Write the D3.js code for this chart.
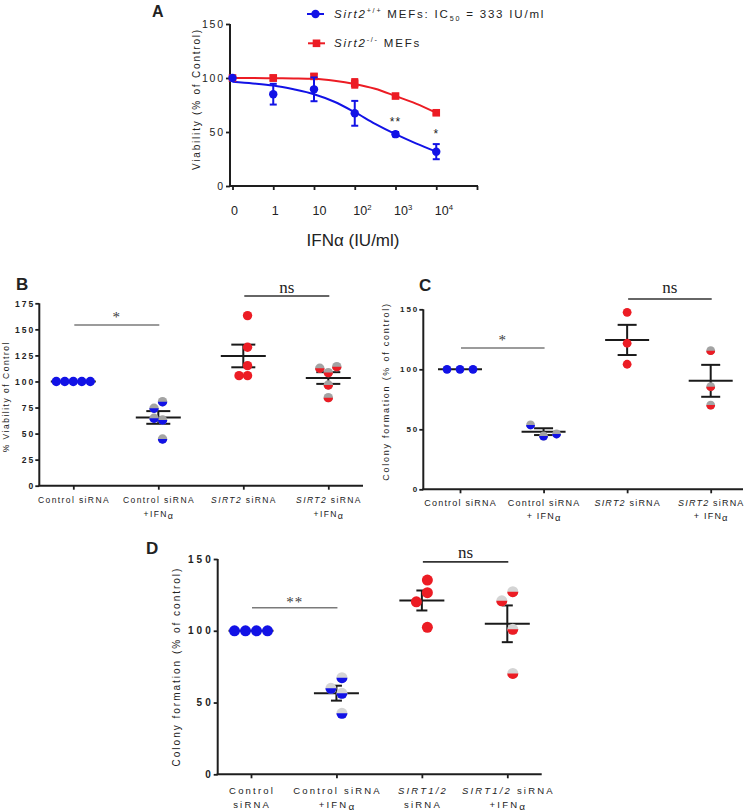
<!DOCTYPE html>
<html><head><meta charset="utf-8">
<script src="https://cdn.jsdelivr.net/npm/d3@7"></script>
<style>
body{margin:0;background:#fff}
svg{display:block}
text{font-family:"Liberation Sans",Arial,Helvetica,sans-serif;fill:#222}
</style>
</head><body>
<svg id="chart" width="745" height="812"></svg>
<script>
// ================= DATA =================
// Panel A: dose-response (x = dose category index)
const doseLabels = ["0", "1", "10", "10^2^", "10^3^", "10^4^"];
const wtMean = [100, 85, 89.5, 67.3, 48, 31.8];
const wtErr  = [0, 9.6, 11, 11.5, 2, 7];
const koMean = [100, 100, 101.5, 95, 83.3, 67.8];
const koErr  = [0, 2.5, 2, 4, 1.5, 1.5];
const aStars = ["", "", "", "", "**", "*"];
// fitted curves at half-decade positions
const fitPos = [0, 0.5, 1, 1.5, 2, 2.5, 3, 3.5, 4, 4.5, 5];
const wtFit  = [96.5, 95, 93, 89.5, 85, 78, 68.3, 57.5, 48, 39.5, 31.8];
const koFit  = [100, 100, 99.8, 99.6, 99.2, 97.5, 94.5, 90, 83.3, 76.3, 67.8];
const legendWt = "_Sirt2_^+/+^ MEFs: IC~50~ = 333 IU/ml";
const legendKo = "_Sirt2_^-/-^ MEFs";

// Panel B: % viability
const bCategories = ["Control siRNA", "Control siRNA\n+IFN|α|", "_SIRT2_ siRNA", "_SIRT2_ siRNA\n+IFN|α|"];
const bCtrl     = [100, 100, 100, 100, 100];
const bCtrlIfn  = [80.6, 74.3, 63, 64.7, 44.8];
const bSirt     = [163.2, 132.8, 115.2, 105.6, 105.6];
const bSirtIfn  = [108.5, 112.7, 114.2, 96.6, 84.5];
const bTicks    = [0, 25, 50, 75, 100, 125, 150, 175];
const bSig      = [{a: 0, b: 1, label: "*", value: 154.2}, {a: 2, b: 3, label: "ns", value: 182}];

// Panel C: colony formation
const cCategories = ["Control siRNA", "Control siRNA\n+ IFN|α|", "_SIRT2_ siRNA", "_SIRT2_ siRNA\n+ IFN|α|"];
const cCtrl     = [100, 100, 100];
const cCtrlIfn  = [44.4, 53.6, 46.1];
const cSirt     = [147.5, 121.7, 104.2];
const cSirtIfn  = [115.5, 85.5, 70.2];
const cTicks    = [0, 50, 100, 150];
const cSig      = [{a: 0, b: 1, label: "*", value: 117.8}, {a: 2, b: 3, label: "ns", value: 158.6}];

// Panel D: colony formation
const dCategories = ["Control\nsiRNA", "Control siRNA\n+IFN|α|", "_SIRT1/2_\nsiRNA", "_SIRT1/2_ siRNA\n+IFN|α|"];
const dCtrl     = [100, 100, 100, 100];
const dCtrlIfn  = [67.3, 59.9, 56.4, 42.5];
const dSirt     = [135.3, 126.5, 120.2, 102.4];
const dSirtIfn  = [127.2, 120.9, 101, 70.3];
const dTicks    = [0, 50, 100, 150];
const dSig      = [{a: 0, b: 1, label: "**", value: 116}, {a: 2, b: 3, label: "ns", value: 148}];

// ================= STYLE =================
const BLUE = "#1212e6", RED = "#ec1c24", AXIS = "#1e1e1e";
const SERIF = '"Liberation Serif","Times New Roman",serif';

const svg = d3.select("#chart");

// rich text: _italic_, ^sup^, ~sub~, |lowered|
function rich(textSel, str, size) {
  const parts = str.split(/(_[^_]+_|\^[^^]+\^|~[^~]+~|\|[^|]+\|)/).filter(s => s.length);
  let cur = 0;
  parts.forEach(p => {
    let t = p, it = false, shift = 0, fs = size;
    if (p[0] === "_") { t = p.slice(1, -1); it = true; }
    else if (p[0] === "^") { t = p.slice(1, -1); shift = -size * 0.42; fs = size * 0.62; }
    else if (p[0] === "~") { t = p.slice(1, -1); shift = size * 0.25; fs = size * 0.62; }
    else if (p[0] === "|") { t = p.slice(1, -1); shift = size * 0.22; fs = size * 1.05; }
    const ts = textSel.append("tspan").text(t).attr("font-size", fs);
    if (it) ts.attr("font-style", "italic");
    if (shift !== cur) { ts.attr("dy", shift - cur); cur = shift; }
  });
}

function styleAxis(g, fs, ls) {
  g.select(".domain").remove();
  g.selectAll(".tick line").attr("stroke", AXIS).attr("stroke-width", 1.8);
  g.selectAll(".tick text").attr("font-size", fs).attr("letter-spacing", ls).attr("fill", "#222");
}

// ================= PANEL A =================
(function panelA() {
  const g = svg.append("g");
  const x = d3.scaleLinear().domain([0, 6]).range([232.5, 477]);
  const y = d3.scaleLinear().domain([0, 150]).range([186, 24]);

  const ya = g.append("g").attr("transform", "translate(230,0)")
    .call(d3.axisLeft(y).tickValues([0, 50, 100, 150]).tickSize(4).tickPadding(3));
  styleAxis(ya, 10.5, 1.8);
  ya.selectAll(".tick text").attr("dx", 1.8);
  const xa = g.append("g").attr("transform", "translate(0,186)")
    .call(d3.axisBottom(x).tickValues(d3.range(7)).tickSize(4).tickFormat(""));
  styleAxis(xa, 12, 0);
  g.append("line").attr("x1", 230).attr("x2", 230).attr("y1", y(150)).attr("y2", y(0)).attr("stroke", AXIS).attr("stroke-width", 2);
  g.append("line").attr("x1", 229).attr("x2", 478).attr("y1", y(0)).attr("y2", y(0)).attr("stroke", AXIS).attr("stroke-width", 2);

  doseLabels.forEach((l, i) => {
    const t = g.append("text").attr("x", x(i) - 1.5).attr("y", 215).attr("font-size", 12.5);
    rich(t, l, 12.5);
  });

  g.append("text").attr("x", 353).attr("y", 246).attr("text-anchor", "middle")
    .attr("font-size", 17).text("IFNα (IU/ml)");
  g.append("text").attr("transform", "translate(200,99) rotate(-90)").attr("text-anchor", "middle")
    .attr("font-size", 10).attr("letter-spacing", 1.8).text("Viability (% of Control)");
  g.append("text").attr("x", 152).attr("y", 17).attr("font-size", 16).attr("font-weight", "bold").attr("fill", "#111").text("A");

  const line = d3.line().x(d => x(d[0])).y(d => y(d[1])).curve(d3.curveMonotoneX);
  g.append("path").attr("d", line(fitPos.map((p, i) => [p, koFit[i]]))).attr("fill", "none").attr("stroke", RED).attr("stroke-width", 2);
  g.append("path").attr("d", line(fitPos.map((p, i) => [p, wtFit[i]]))).attr("fill", "none").attr("stroke", BLUE).attr("stroke-width", 2);

  function errbars(m, e, color) {
    m.forEach((v, i) => {
      if (!e[i]) return;
      g.append("line").attr("x1", x(i)).attr("x2", x(i)).attr("y1", y(v - e[i])).attr("y2", y(v + e[i])).attr("stroke", color).attr("stroke-width", 2);
      [v - e[i], v + e[i]].forEach(w => g.append("line").attr("x1", x(i) - 3.5).attr("x2", x(i) + 3.5).attr("y1", y(w)).attr("y2", y(w)).attr("stroke", color).attr("stroke-width", 2));
    });
  }
  errbars(koMean, koErr, RED);
  g.selectAll(".ko").data(koMean).join("rect").attr("x", (d, i) => x(i) - 3.8).attr("y", d => y(d) - 3.8)
    .attr("width", 7.6).attr("height", 7.6).attr("fill", RED);
  errbars(wtMean, wtErr, BLUE);
  g.selectAll(".wt").data(wtMean).join("circle").attr("cx", (d, i) => x(i)).attr("cy", d => y(d)).attr("r", 4.2).attr("fill", BLUE);

  aStars.forEach((s, i) => {
    if (!s) return;
    g.append("text").attr("x", x(i)).attr("y", y(wtMean[i] + wtErr[i]) - 6).attr("text-anchor", "middle")
      .attr("font-size", 12).attr("letter-spacing", 1).attr("fill", "#333").text(s);
  });

  // legend
  g.append("line").attr("x1", 307).attr("x2", 324).attr("y1", 14).attr("y2", 14).attr("stroke", BLUE).attr("stroke-width", 2);
  g.append("circle").attr("cx", 315.5).attr("cy", 14).attr("r", 4.2).attr("fill", BLUE);
  const t1 = g.append("text").attr("x", 334).attr("y", 18).attr("font-size", 11.5).attr("letter-spacing", 1.8);
  rich(t1, legendWt, 11.5);
  g.append("line").attr("x1", 308).attr("x2", 325).attr("y1", 43.3).attr("y2", 43.3).attr("stroke", RED).attr("stroke-width", 2);
  g.append("rect").attr("x", 316.5 - 3.8).attr("y", 43.3 - 3.8).attr("width", 7.6).attr("height", 7.6).attr("fill", RED);
  const t2 = g.append("text").attr("x", 334).attr("y", 47.3).attr("font-size", 11.5).attr("letter-spacing", 1.8);
  rich(t2, legendKo, 11.5);
})();

// ================= DOT PANELS =================
function swarm(vals, y, step) {
  const placed = [];
  const order = [0, -1, 1, -2, 2, -3, 3, -4, 4];
  const offs = vals.map(v => {
    const py = y(v);
    for (const k of order) {
      const px = k * step;
      if (placed.every(p => Math.hypot(p[0] - px, p[1] - py) >= step - 1e-6)) { placed.push([px, py]); return px; }
    }
    return 0;
  });
  const c = (d3.min(offs) + d3.max(offs)) / 2;
  return offs.map(o => o - c);
}

function dotPanel(cfg) {
  const g = svg.append("g");
  const y = d3.scaleLinear().domain([0, cfg.yMax]).range([cfg.y0, cfg.yTop]);
  const x = d3.scalePoint().domain(d3.range(cfg.categories.length)).range([cfg.xFirst, cfg.xLast]);

  const ya = g.append("g").attr("transform", `translate(${cfg.axisX},0)`)
    .call(d3.axisLeft(y).tickValues(cfg.ticks).tickSize(4).tickPadding(cfg.tickPad));
  styleAxis(ya, cfg.tickFs, cfg.tickLs);
  ya.selectAll(".tick text").attr("dx", cfg.tickLs).attr("font-weight", "bold").attr("fill", "#333");
  const xa = g.append("g").attr("transform", `translate(0,${cfg.y0})`)
    .call(d3.axisBottom(x).tickSize(4).tickFormat(""));
  styleAxis(xa, 10, 0);
  g.append("line").attr("x1", cfg.axisX).attr("x2", cfg.axisX).attr("y1", cfg.yTop).attr("y2", cfg.y0).attr("stroke", AXIS).attr("stroke-width", 2);
  g.append("line").attr("x1", cfg.axisX - 1).attr("x2", cfg.axisRight).attr("y1", cfg.y0).attr("y2", cfg.y0).attr("stroke", AXIS).attr("stroke-width", 2);

  // category labels
  cfg.categories.forEach((c, i) => {
    c.split("\n").forEach((ln, j) => {
      const t = g.append("text").attr("x", x(i) + cfg.catLs / 2).attr("y", cfg.catY + j * cfg.catGap)
        .attr("text-anchor", "middle").attr("font-size", cfg.catFs).attr("letter-spacing", cfg.catLs).attr("fill", "#222");
      rich(t, ln, cfg.catFs);
    });
  });

  g.append("text").attr("transform", `translate(${cfg.yLabelX},${cfg.yLabelY}) rotate(-90)`).attr("text-anchor", "middle")
    .attr("font-size", cfg.yLabelFs).attr("letter-spacing", cfg.yLabelLs).attr("fill", "#333").text(cfg.yLabel);
  g.append("text").attr("x", cfg.letterX).attr("y", cfg.letterY).attr("font-size", 17).attr("font-weight", "bold").attr("fill", "#111").text(cfg.letter);

  // significance bars
  cfg.sig.forEach(s => {
    const x1 = x(s.a) + 1, x2 = x(s.b) + 1, yy = y(s.value);
    const isNs = s.label === "ns";
    g.append("line").attr("x1", x1).attr("x2", x2).attr("y1", yy).attr("y2", yy)
      .attr("stroke", isNs ? "#333" : "#7a7a7a").attr("stroke-width", 1.6);
    g.append("text").attr("x", (x1 + x2) / 2).attr("y", yy - (isNs ? cfg.nsGap : cfg.starGap)).attr("text-anchor", "middle")
      .style("font-family", SERIF).attr("font-size", isNs ? 17 : 15).attr("letter-spacing", isNs ? 0 : 1)
      .style("fill", isNs ? "#222" : "#3a3a3a").text(s.label);
  });

  // groups
  cfg.groups.forEach((vals, i) => {
    const cx = x(i);
    const m = d3.mean(vals);
    const sem = d3.deviation(vals) / Math.sqrt(vals.length);
    const lc = "#1a1a1a";
    g.append("line").attr("x1", cx - cfg.meanHalf).attr("x2", cx + cfg.meanHalf).attr("y1", y(m)).attr("y2", y(m)).attr("stroke", lc).attr("stroke-width", 2);
    if (sem > 0) {
      g.append("line").attr("x1", cx).attr("x2", cx).attr("y1", y(m - sem)).attr("y2", y(m + sem)).attr("stroke", lc).attr("stroke-width", 2);
      [m - sem, m + sem].forEach(w => g.append("line").attr("x1", cx - cfg.capHalf).attr("x2", cx + cfg.capHalf)
        .attr("y1", y(w)).attr("y2", y(w)).attr("stroke", lc).attr("stroke-width", 2));
    }
    const offs = swarm(vals, y, cfg.step);
    const color = i < 2 ? BLUE : RED;
    const half = i % 2 === 1;
    vals.forEach((v, k) => {
      const px = cx + offs[k], py = y(v), r = cfg.r;
      if (!half) {
        g.append("circle").attr("cx", px).attr("cy", py).attr("r", r).attr("fill", color);
      } else {
        g.append("circle").attr("cx", px).attr("cy", py).attr("r", r).attr("fill", cfg.grey);
        g.append("path").attr("d", `M${px - r},${py} A${r},${r} 0 0 0 ${px + r},${py} Z`).attr("fill", color);
      }
    });
  });
}

dotPanel({
  categories: bCategories, groups: [bCtrl, bCtrlIfn, bSirt, bSirtIfn], ticks: bTicks, sig: bSig,
  yMax: 175, y0: 485.7, yTop: 303.3, axisX: 39.3, axisRight: 363, xFirst: 73.3, xLast: 328.3,
  tickFs: 8.5, tickLs: 2, tickPad: 2,
  catFs: 8.5, catLs: 1.4, catY: 502.7, catGap: 14,
  yLabel: "% Viability of Control", yLabelX: 9, yLabelY: 396.7, yLabelFs: 8.5, yLabelLs: 1.5,
  letter: "B", letterX: 16, letterY: 290,
  r: 4.7, step: 8.5, meanHalf: 22.5, capHalf: 12, grey: "#a3a3a3", starGap: 3, nsGap: 3.3
});
dotPanel({
  categories: cCategories, groups: [cCtrl, cCtrlIfn, cSirt, cSirtIfn], ticks: cTicks, sig: cSig,
  yMax: 150, y0: 489.3, yTop: 309.3, axisX: 423.3, axisRight: 743, xFirst: 460, xLast: 710.7,
  tickFs: 8, tickLs: 2, tickPad: 2,
  catFs: 9, catLs: 1.2, catY: 506, catGap: 13.3,
  yLabel: "Colony formation (% of control)", yLabelX: 389, yLabelY: 391.5, yLabelFs: 9, yLabelLs: 1.75,
  letter: "C", letterX: 419, letterY: 291,
  r: 4.4, step: 13, meanHalf: 22, capHalf: 9.5, grey: "#a3a3a3", starGap: 3.2, nsGap: 6.3
});
dotPanel({
  categories: dCategories, groups: [dCtrl, dCtrlIfn, dSirt, dSirtIfn], ticks: dTicks, sig: dSig,
  yMax: 150, y0: 774.3, yTop: 559, axisX: 217.7, axisRight: 541.7, xFirst: 251, xLast: 507.3,
  tickFs: 10, tickLs: 3, tickPad: 3,
  catFs: 9.5, catLs: 2.2, catY: 793.5, catGap: 14,
  yLabel: "Colony formation (% of control)", yLabelX: 180, yLabelY: 666.5, yLabelFs: 10, yLabelLs: 2,
  letter: "D", letterX: 146, letterY: 554,
  r: 5.5, step: 11, meanHalf: 22.5, capHalf: 5.5, grey: "#d4d4d4", starGap: 1, nsGap: 4
});
</script>
</body></html>
